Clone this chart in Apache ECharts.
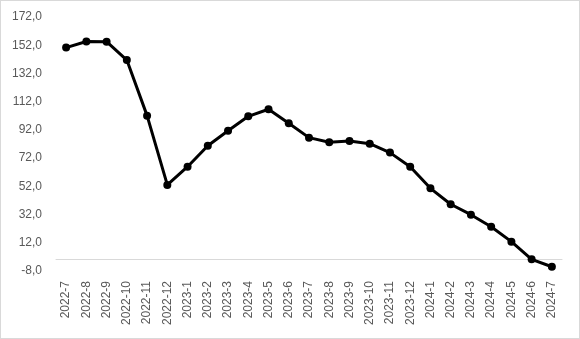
<!DOCTYPE html>
<html>
<head>
<meta charset="utf-8">
<script src="https://cdn.jsdelivr.net/npm/echarts@6/dist/echarts.min.js"></script>
<style>
html,body{margin:0;padding:0;background:#fff;}
#c{width:578px;height:337px;border:1px solid #d9d9d9;}
</style>
</head>
<body>
<div id="c"></div>
<script>
var categories = ['2022-7','2022-8','2022-9','2022-10','2022-11','2022-12','2023-1','2023-2','2023-3','2023-4','2023-5','2023-6','2023-7','2023-8','2023-9','2023-10','2023-11','2023-12','2024-1','2024-2','2024-3','2024-4','2024-5','2024-6','2024-7'];
var values = [150.3, 154.6, 154.5, 141.5, 102.1, 53.0, 65.9, 80.8, 91.4, 101.6, 106.6, 96.7, 86.5, 83.2, 84.1, 82.2, 75.9, 65.9, 50.6, 39.3, 31.9, 23.4, 12.8, 0.3, -5.0];
var yTicks = [-8, 12, 32, 52, 72, 92, 112, 132, 152, 172];

var chart = echarts.init(document.getElementById('c'));
chart.setOption({
  animation: false,
  grid: {left: 55, right: 17, top: 16, bottom: 67, containLabel: false},
  xAxis: {
    type: 'category',
    data: categories,
    boundaryGap: true,
    axisLine: {lineStyle: {color: '#d9d9d9', width: 1}},
    axisTick: {show: false},
    axisLabel: {rotate: 90, interval: 0, color: '#595959', fontSize: 12, fontFamily: 'Liberation Sans', margin: 10}
  },
  yAxis: {
    type: 'value',
    min: yTicks[0],
    max: yTicks[yTicks.length - 1],
    axisLine: {show: false},
    axisTick: {show: false},
    splitLine: {show: false},
    axisLabel: {
      customValues: yTicks,
      color: '#595959', fontSize: 12, fontFamily: 'Liberation Sans', margin: 14,
      formatter: function (v) { return v.toFixed(1).replace('.', ','); }
    }
  },
  series: [{
    type: 'line',
    data: values,
    symbol: 'circle',
    symbolSize: 8,
    lineStyle: {color: '#000', width: 3},
    itemStyle: {color: '#000'}
  }]
});
</script>
</body>
</html>
